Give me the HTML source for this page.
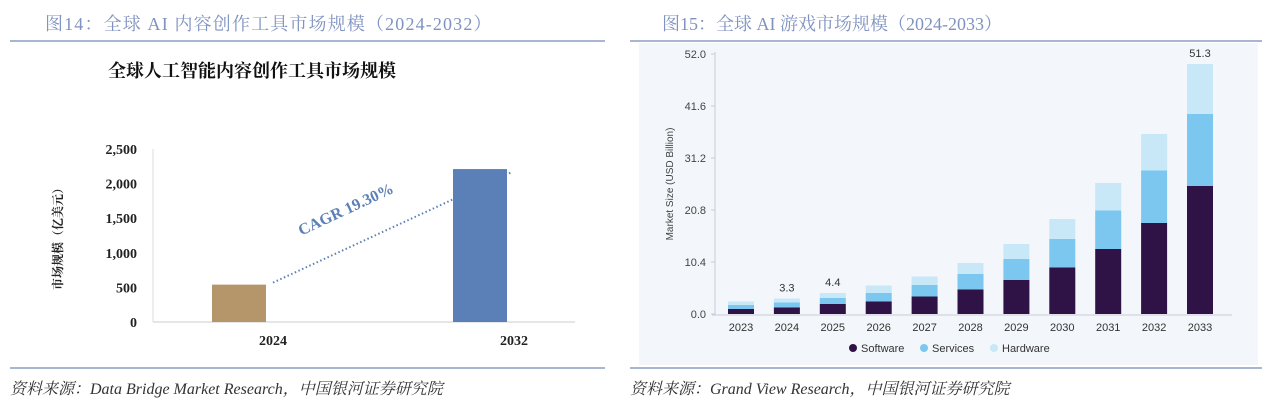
<!DOCTYPE html>
<html><head><meta charset="utf-8">
<style>
body{margin:0;width:1269px;height:408px;background:#fff;overflow:hidden;position:relative;font-family:"Liberation Serif","Noto Serif CJK SC",serif}
.t{position:absolute;top:10px;font-size:18px;color:#7f92c0;white-space:nowrap}
.hl{position:absolute;height:2px;background:#a9b6d3}
.src{position:absolute;top:376px;font-size:16px;font-style:italic;color:#333;white-space:nowrap}
</style></head><body>
<div class="t" style="left:45px;letter-spacing:1.15px">图14：全球 AI 内容创作工具市场规模（2024-2032）</div>
<div class="t" style="left:662px">图15：全球 AI 游戏市场规模（2024-2033）</div>
<div class="hl" style="left:10px;top:40px;width:595px"></div>
<div class="hl" style="left:630px;top:40px;width:632px"></div>
<div class="hl" style="left:10px;top:367px;width:595px"></div>
<div class="hl" style="left:630px;top:367px;width:632px"></div>
<div class="src" style="left:10px">资料来源：Data Bridge Market Research，中国银河证券研究院</div>
<div class="src" style="left:630px">资料来源：Grand View Research，中国银河证券研究院</div>

<svg id="c1" style="position:absolute;left:0;top:0" width="620" height="370"></svg>
<svg id="c2" style="position:absolute;left:0;top:0" width="1269" height="370"></svg>

<script>
const c1Cats=["2024","2032"];
const c1Vals=[540,2210];
const c1Ticks=[0,500,1000,1500,2000,2500];
const c1Colors=["#b4966a","#5b80b8"];

const c2Cats=["2023","2024","2025","2026","2027","2028","2029","2030","2031","2032","2033"];
const c2Software=[1.0,1.3,2.0,2.5,3.5,4.9,6.8,9.3,13.0,18.2,25.6];
const c2Services=[0.8,1.0,1.2,1.7,2.3,3.1,4.2,5.7,7.7,10.5,14.4];
const c2Hardware=[0.7,0.8,1.0,1.5,1.7,2.2,3.0,4.0,5.5,7.3,10.0];
const c2Labels=["","3.3","4.4","","","","","","","","51.3"];
const c2Ticks=[0,10.4,20.8,31.2,41.6,52.0];

const NS="http://www.w3.org/2000/svg";
function mk(svg,tag,attrs,txt){const e=document.createElementNS(NS,tag);for(const k in attrs)e.setAttribute(k,attrs[k]);if(txt!=null)e.textContent=txt;svg.appendChild(e);return e;}

// Chart 1
const s1=document.getElementById('c1');
const y1=v=>322-v*(173/2500);
const x1=i=>239+i*241;
let e=mk(s1,'text',{x:252,y:77,'font-size':18,'font-weight':'bold','text-anchor':'middle',fill:'#111'},'全球人工智能内容创作工具市场规模');


e=mk(s1,'line',{x1:153,y1:149,x2:153,y2:322,stroke:'#ddd'});


e=mk(s1,'line',{x1:153,y1:322,x2:575,y2:322,stroke:'#d6d6d6','stroke-width':1.2});


c1Ticks.forEach(t=>{
  e=mk(s1,'text',{x:137,y:y1(t)+5,'font-size':14,'font-weight':'bold','text-anchor':'end',fill:'#222'},t.toLocaleString('en-US'));
  
  
});
e=mk(s1,'text',{transform:'translate(62,236) rotate(-90)','font-size':12,'font-weight':'bold','text-anchor':'middle',fill:'#222'},'市场规模（亿美元）');


c1Cats.forEach((c,i)=>{
  e=mk(s1,'rect',{x:x1(i)-27,y:y1(c1Vals[i]),width:54,height:y1(0)-y1(c1Vals[i]),fill:c1Colors[i]});
  
  
  e=mk(s1,'text',{x:x1(i)+34,y:345,'font-size':14,'font-weight':'bold','text-anchor':'middle',fill:'#222'},c);
  
  
});
e=mk(s1,'line',{x1:x1(0)+34,y1:y1(c1Vals[0])-2,x2:x1(1)+32,y2:y1(c1Vals[1])+3,stroke:'#5b80b8','stroke-width':2,'stroke-dasharray':'1.5 2.5'});


e=mk(s1,'text',{x:348,y:214,'font-size':16,'font-weight':'bold',fill:'#5b80b8',transform:'rotate(-25 348 214)','text-anchor':'middle'},'CAGR 19.30%');



// Chart 2
const s2=document.getElementById('c2');
const y2=v=>314-v*(260/52);
const x2=i=>741+i*45.9;
const sf='"Liberation Sans",sans-serif';
e=mk(s2,'rect',{x:639,y:43,width:619,height:322,fill:'#f3f6fa'});


e=mk(s2,'line',{x1:715,y1:52,x2:715,y2:315,stroke:'#c8ccd4'});


e=mk(s2,'line',{x1:712,y1:315,x2:1232,y2:315,stroke:'#c8ccd4'});


c2Ticks.forEach(t=>{
  e=mk(s2,'line',{x1:711,y1:y2(t),x2:715,y2:y2(t),stroke:'#c8ccd4'});
  
  
  e=mk(s2,'text',{x:706,y:y2(t)+4,'font-size':11,'font-family':sf,'text-anchor':'end',fill:'#444'},t.toFixed(1));
  
  
});
e=mk(s2,'text',{transform:'translate(673,184) rotate(-90)','font-size':10,'font-family':sf,'text-anchor':'middle',fill:'#444'},'Market Size (USD Billion)');


c2Cats.forEach((c,i)=>{
  const a=c2Software[i],b=a+c2Services[i],h=b+c2Hardware[i],w=26,x=x2(i)-w/2;
  e=mk(s2,'rect',{x:x,y:y2(a),width:w,height:y2(0)-y2(a),fill:'#2f1346'});
  
  
  e=mk(s2,'rect',{x:x,y:y2(b),width:w,height:y2(a)-y2(b),fill:'#7cc7ef'});
  
  
  e=mk(s2,'rect',{x:x,y:y2(h),width:w,height:y2(b)-y2(h),fill:'#c8e8f8'});
  
  
  e=mk(s2,'text',{x:x2(i),y:331,'font-size':11,'font-family':sf,'text-anchor':'middle',fill:'#333'},c);
  
  
  if(c2Labels[i]){
    e=mk(s2,'text',{x:x2(i),y:y2(h)-7,'font-size':11,'font-family':sf,'text-anchor':'middle',fill:'#333'},c2Labels[i]);
    
    
  }
});
[["Software","#2f1346",853],["Services","#7cc7ef",924],["Hardware","#c8e8f8",994]].forEach(l=>{
  e=mk(s2,'circle',{cx:l[2],cy:348,r:4,fill:l[1]});
  
  
  e=mk(s2,'text',{x:l[2]+8,y:352,'font-size':11,'font-family':sf,fill:'#333'},l[0]);
  
  
});
</script>
</body></html>
